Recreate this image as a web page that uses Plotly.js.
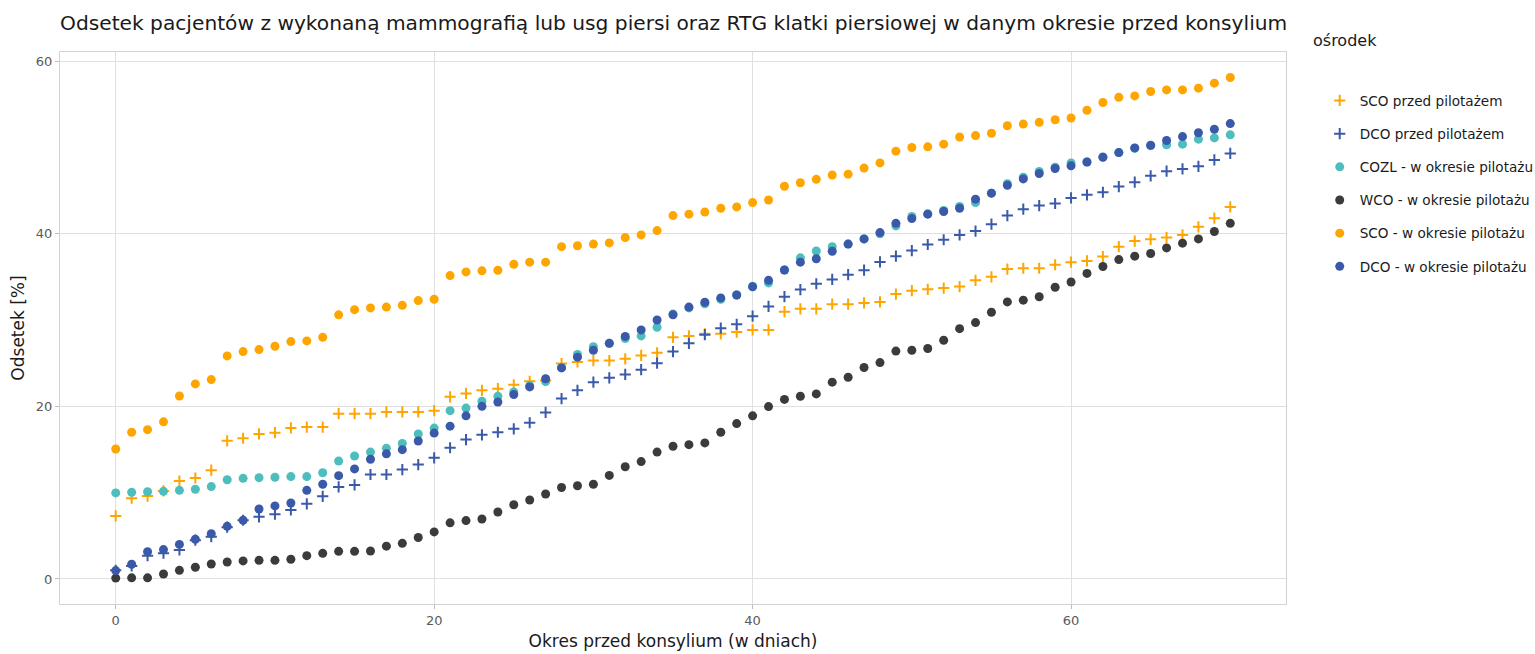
<!DOCTYPE html>
<html>
<head>
<meta charset="utf-8">
<script src="https://cdn.plot.ly/plotly-3.0.1.min.js"></script>
<style>html,body{margin:0;padding:0;background:#fff;}#chart{width:1535px;height:654px;}</style>
</head>
<body>
<div id="chart"></div>
<script>
const days = Array.from({length: 71}, (_, i) => i);

const scoPrzed = [7.3,9.35,9.6,10.2,11.35,11.7,12.6,16.0,16.3,16.8,16.95,17.5,17.6,17.6,19.15,19.15,19.15,19.35,19.35,19.35,19.5,
  21.1,21.5,21.86,22.05,22.5,22.9,23.0,24.95,25.15,25.3,25.3,25.5,25.9,26.2,28.0,28.16,28.4,28.4,28.6,28.85,
  28.85,30.97,31.3,31.3,31.83,31.83,31.98,32.1,33.0,33.4,33.56,33.7,33.87,34.6,35.0,35.9,36.0,36.0,36.4,36.7,
  36.85,37.35,38.5,39.15,39.35,39.55,39.86,40.8,41.8,43.1];

const dcoPrzed = [1.0,1.5,2.7,2.98,3.36,4.5,4.9,6.0,6.8,7.2,7.5,8.0,8.7,9.58,10.66,10.9,12.1,12.1,12.67,13.25,14.03,
  15.2,16.15,16.7,17.0,17.4,18.1,19.3,20.9,21.86,22.8,23.3,23.7,24.25,25.0,26.34,27.3,28.3,29.05,29.5,30.45,
  31.58,32.7,33.53,34.2,34.7,35.25,35.77,36.73,37.4,38.05,38.75,39.3,39.86,40.3,41.1,42.1,42.84,43.26,43.5,44.15,
  44.5,44.8,45.46,45.97,46.7,47.24,47.5,47.8,48.55,49.3];

const cozl = [9.97,10.04,10.1,10.15,10.27,10.4,10.7,11.5,11.66,11.74,11.78,11.86,11.86,12.3,13.67,14.25,14.7,15.13,15.7,16.8,17.48,
  19.5,19.8,20.6,21.17,21.67,22.4,22.86,24.5,26.0,26.9,27.3,27.85,28.16,29.16,30.7,31.4,31.87,32.4,32.9,33.9,
  34.3,35.8,37.2,38.0,38.5,38.8,39.4,40.0,40.9,42.0,42.3,42.7,43.15,43.6,44.7,45.8,46.55,47.2,47.7,48.2,
  48.3,48.9,49.4,49.9,50.2,50.3,50.37,50.95,51.1,51.45];

const wco = [0.1,0.13,0.13,0.58,1.0,1.36,1.74,1.97,2.09,2.16,2.16,2.28,2.7,2.97,3.2,3.2,3.24,3.8,4.13,4.8,5.45,
  6.5,6.76,6.95,7.76,8.6,9.15,9.85,10.6,10.8,10.97,12.0,13.0,13.6,14.7,15.37,15.56,15.76,17.0,18.0,18.9,
  19.97,20.8,21.17,21.44,22.8,23.37,24.5,25.07,26.4,26.5,26.7,27.65,29.0,29.7,30.9,32.1,32.3,32.7,33.8,34.4,
  35.4,36.2,37.0,37.4,37.7,38.35,38.9,39.4,40.25,41.2];

const scoPilot = [15.06,17.0,17.3,18.2,21.2,22.6,23.1,25.84,26.34,26.57,26.96,27.5,27.58,28.0,30.6,31.2,31.4,31.5,31.7,32.25,32.4,
  35.15,35.57,35.7,35.77,36.46,36.7,36.7,38.5,38.6,38.8,38.93,39.55,39.86,40.36,42.1,42.26,42.5,42.95,43.1,43.6,
  43.9,45.5,45.9,46.3,46.8,46.9,47.6,48.2,49.56,49.98,50.06,50.37,51.2,51.37,51.64,52.5,52.7,52.9,53.2,53.4,
  54.3,55.2,55.8,55.96,56.47,56.66,56.66,56.86,57.44,58.1];

const dcoPilot = [0.97,1.7,3.16,3.4,4.0,4.6,5.25,6.1,6.8,8.1,8.46,8.8,10.27,10.97,11.97,12.75,13.87,14.5,14.98,15.99,16.9,
  17.7,18.9,20.0,20.5,21.36,22.25,23.2,24.45,25.7,26.5,27.3,28.1,28.85,30.0,30.6,31.5,32.06,32.56,32.9,33.85,
  34.6,35.8,36.7,37.1,37.97,38.8,39.4,40.13,41.2,41.75,42.26,42.57,42.95,44.0,44.7,45.6,46.35,46.96,47.55,47.86,
  48.3,48.86,49.4,49.94,50.25,50.8,51.25,51.7,52.1,52.76];

const seriesNames = ["SCO przed pilotażem","DCO przed pilotażem","COZL - w okresie pilotażu","WCO - w okresie pilotażu","SCO - w okresie pilotażu","DCO - w okresie pilotażu"];
const seriesValues = [scoPrzed, dcoPrzed, cozl, wco, scoPilot, dcoPilot];
const seriesColors = ["#FFA500","#3A59A8","#4DBDBD","#3B3B3B","#FFA500","#3A59A8"];
const seriesIsCross = [true,true,false,false,false,false];

const xTicks = [0,20,40,60];
const yTicks = [0,20,40,60];

const traces = seriesNames.map((name, i) => {
  const m = seriesIsCross[i]
    ? {symbol: "cross-thin", size: 8, color: seriesColors[i], line: {color: seriesColors[i], width: 2}}
    : {symbol: "circle", size: 9, color: seriesColors[i], line: {width: 0}};
  return {
    type: "scatter", mode: "markers", name: name, x: days, y: seriesValues[i],
    marker: m, legendgroup: "g" + i
  };
});

const font = "DejaVu Sans, Verdana, sans-serif";
const layout = {
  width: 1535, height: 654,
  margin: {l: 60, r: 249, t: 52, b: 50, autoexpand: false},
  paper_bgcolor: "#ffffff", plot_bgcolor: "#ffffff",
  font: {family: font, color: "#4d4d4d", size: 13},
  title: {text: "Odsetek pacjentów z wykonaną mammografią lub usg piersi oraz RTG klatki piersiowej w danym okresie przed konsylium",
    x: 0, xref: "paper", xanchor: "left", y: 0.965, yanchor: "middle", yref: "container",
    font: {family: font, size: 20.2, color: "#1a1a1a"}},
  xaxis: {range: [-3.5, 73.5], tickvals: xTicks, ticktext: xTicks.map(String), showgrid: true, gridcolor: "#e0e0e0", gridwidth: 1,
    zeroline: false, showline: true, mirror: true, linecolor: "#d2d2d2", linewidth: 1,
    ticks: "outside", ticklen: 4, tickcolor: "#bdbdbd", tickfont: {size: 13, color: "#5a5a5a"},
    title: {text: "Okres przed konsylium (w dniach)", font: {size: 17, color: "#1a1a1a"}, standoff: 8}},
  yaxis: {range: [-2.9, 61.05], tickvals: yTicks, ticktext: yTicks.map(String), showgrid: true, gridcolor: "#e0e0e0", gridwidth: 1,
    zeroline: false, showline: true, mirror: true, linecolor: "#d2d2d2", linewidth: 1,
    ticks: "outside", ticklen: 4, tickcolor: "#bdbdbd", tickfont: {size: 13, color: "#5a5a5a"},
    title: {text: "Odsetek [%]", font: {size: 17, color: "#1a1a1a"}, standoff: 6}},
  legend: {x: 1.0275, xanchor: "left", y: 0.94, yanchor: "top", traceorder: "grouped", tracegroupgap: 12.5,
    font: {size: 13.6, color: "#1a1a1a"}, bgcolor: "rgba(0,0,0,0)", itemsizing: "trace"},
  annotations: [{text: "ośrodek", xref: "paper", yref: "paper", x: 1.02, y: 1.02, xanchor: "left", yanchor: "middle",
    showarrow: false, font: {size: 16, color: "#1a1a1a", family: font}}],
  showlegend: true
};

Plotly.newPlot("chart", traces, layout, {displayModeBar: false, staticPlot: true});
</script>
</body>
</html>
